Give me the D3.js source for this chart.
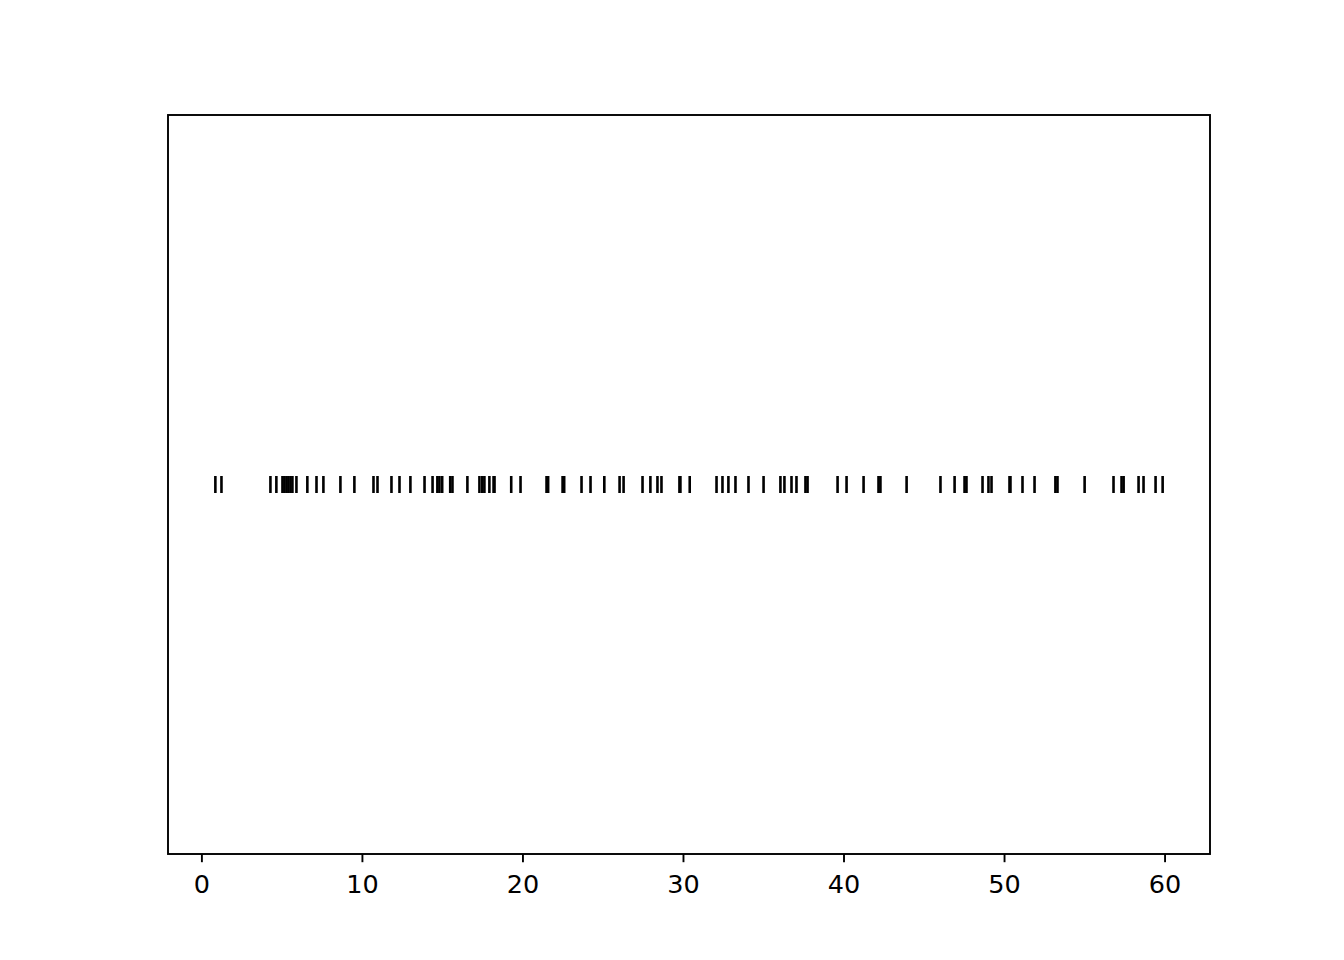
<!DOCTYPE html>
<html>
<head>
<meta charset="utf-8">
<script src="https://cdn.jsdelivr.net/npm/d3@7"></script>
<style>
    body { margin: 0; background: #fff; }
    svg { display: block; }
</style>
</head>
<body>
<svg id="chart"></svg>
<script>
// event positions
var events = [
    0.87, 1.25, 4.30, 4.67, 5.05, 5.17, 5.30, 5.42, 5.55, 5.67, 5.92,
    6.60, 7.17, 7.60, 8.66, 9.53, 10.72, 10.97, 11.84, 12.34, 13.02,
    13.90, 14.40, 14.70, 14.83, 15.00, 15.50, 15.64, 16.57, 17.32, 17.50,
    17.63, 17.94, 18.20, 18.26, 19.30, 19.88, 21.50, 21.60, 22.50, 22.60,
    23.68, 24.24, 25.10, 26.05, 26.30, 27.48, 27.97, 28.41, 28.66, 29.78,
    29.84, 30.42, 32.09, 32.46, 32.83, 33.27, 34.08, 35.02, 36.07, 36.32,
    36.76, 37.07, 37.63, 37.76, 39.63, 40.19, 41.25, 42.18, 42.30, 43.93,
    46.04, 46.92, 47.54, 47.66, 48.66, 49.03, 49.22, 50.34, 50.40, 51.15,
    51.90, 53.20, 53.33, 55.02, 56.82, 57.32, 57.45, 58.38, 58.69, 59.44,
    59.88
]
var xTicks = [0, 10, 20, 30, 40, 50, 60]
var lineOffset = 1
var lineLength = 0.046

var width = 1344, height = 960
var margin = {left: 168, right: 134, top: 115, bottom: 106}
var fontFamily = "'DejaVu Sans', sans-serif"

var svg = d3.select("#chart")
    .attr("width", width)
    .attr("height", height)

// matplotlib style 5% margins on the data range
var lo = d3.min(events), hi = d3.max(events)
var pad = (hi - lo) * 0.05

var x = d3.scaleLinear()
    .domain([lo - pad, hi + pad])
    .range([margin.left, width - margin.right])

var y = d3.scaleLinear()
    .domain([0, 2])
    .range([height - margin.bottom, margin.top])

svg.append("g")
    .selectAll("line")
    .data(events).enter()
    .append("line")
    .attr("x1", d => x(d)).attr("x2", d => x(d))
    .attr("y1", y(lineOffset - lineLength / 2))
    .attr("y2", y(lineOffset + lineLength / 2))
    .attr("stroke", "#000")
    .attr("stroke-width", 2.6)

var xAxis = svg.append("g")
    .attr("transform", `translate(0,${height - margin.bottom})`)
    .call(d3.axisBottom(x)
        .tickValues(xTicks)
        .tickFormat(d3.format("d"))
        .tickSize(8.2)
        .tickPadding(12.5))

xAxis.select(".domain").remove()
xAxis.selectAll(".tick line")
    .attr("stroke", "#000")
    .attr("stroke-width", 1.9)
xAxis.selectAll(".tick text")
    .attr("fill", "#000")
    .style("font-family", fontFamily)
    .style("font-size", "25.5px")

// axes frame
svg.append("rect")
    .attr("x", margin.left)
    .attr("y", margin.top)
    .attr("width", width - margin.left - margin.right)
    .attr("height", height - margin.top - margin.bottom)
    .attr("fill", "none")
    .attr("stroke", "#000")
    .attr("stroke-width", 1.9)
</script>
</body>
</html>
